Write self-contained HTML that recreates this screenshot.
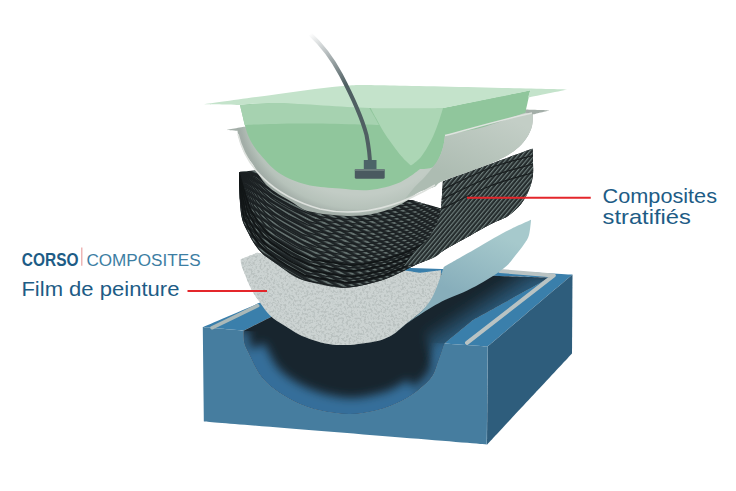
<!DOCTYPE html>
<html><head><meta charset="utf-8">
<style>
html,body{margin:0;padding:0;background:#fff;width:736px;height:491px;overflow:hidden}
svg{position:absolute;left:0;top:0}
.t{position:absolute;font-family:"Liberation Sans",sans-serif;color:#1f5b7c;white-space:nowrap}
</style></head><body>
<svg width="736" height="491" viewBox="0 0 736 491">
<defs>
  <linearGradient id="chan" x1="505" y1="312" x2="462" y2="245" gradientUnits="userSpaceOnUse">
    <stop offset="0" stop-color="#30698d"/>
    <stop offset="0.35" stop-color="#25506c"/>
    <stop offset="0.7" stop-color="#18293a"/>
    <stop offset="1" stop-color="#111a20"/>
  </linearGradient>
  <radialGradient id="band" cx="350" cy="330" r="90" gradientUnits="userSpaceOnUse">
    <stop offset="0.6" stop-color="#223a4c"/>
    <stop offset="0.85" stop-color="#2f6283"/>
    <stop offset="1" stop-color="#3a7398"/>
  </radialGradient>
  <radialGradient id="shellg" cx="360" cy="110" r="106" gradientUnits="userSpaceOnUse" gradientTransform="translate(360 110) scale(1.151 1) translate(-360 -110)">
    <stop offset="0.8" stop-color="#c2ccc5"/>
    <stop offset="0.93" stop-color="#b6c2ba"/>
    <stop offset="1" stop-color="#a3aea8"/>
  </radialGradient>
  <linearGradient id="wallg" x1="500" y1="115" x2="470" y2="185" gradientUnits="userSpaceOnUse">
    <stop offset="0" stop-color="#c3cec6"/>
    <stop offset="1" stop-color="#adbcb2"/>
  </linearGradient>
  <clipPath id="cclip"><path d="M239.0,172.0 C239.0,172.0 258.0,170.0 258.0,170.0 C258.0,170.0 300.0,190.0 300.0,190.0 C300.0,190.0 411.4,200.0 411.4,200.0 C411.4,200.0 441.3,208.5 441.3,208.5 C441.3,208.5 442.8,181.4 442.8,181.4 C442.8,181.4 532.5,148.6 532.5,148.6 C532.5,148.6 533.6,167.3 533.0,174.2 C532.4,181.1 531.0,185.0 529.0,190.0 C527.0,195.0 524.5,199.7 521.0,204.0 C517.5,208.3 513.0,212.7 508.0,216.0 C503.0,219.3 498.3,220.2 491.0,224.0 C483.7,227.8 471.8,234.7 464.0,239.0 C456.2,243.3 449.3,247.0 444.4,250.0 C439.5,253.0 438.9,254.8 434.8,257.0 C430.7,259.2 423.9,261.3 420.0,263.0 C416.1,264.7 414.7,265.4 411.3,267.0 C407.9,268.6 404.6,270.6 399.9,272.8 C395.1,275.0 389.2,277.9 382.8,280.0 C376.4,282.1 367.7,284.3 361.4,285.6 C355.1,286.9 350.7,287.8 345.0,287.8 C339.3,287.8 334.0,287.0 327.0,285.7 C320.0,284.4 308.6,281.8 302.8,280.0 C297.0,278.2 295.2,276.8 292.0,275.0 C288.8,273.2 287.1,271.3 283.8,269.0 C280.5,266.7 275.9,263.5 272.4,261.0 C268.9,258.5 265.6,256.6 262.6,253.8 C259.6,251.0 256.8,247.5 254.4,244.0 C252.0,240.5 250.0,236.7 248.0,232.6 C246.0,228.5 243.6,225.0 242.2,219.6 C240.8,214.2 240.3,207.9 239.8,200.0 C239.3,192.1 239.0,172.0 239.0,172.0Z"/></clipPath>
  <pattern id="patB" width="3.2" height="3.2" patternUnits="userSpaceOnUse" patternTransform="rotate(-50)">
    <rect width="3.2" height="3.2" fill="#252c2d"/>
    <rect width="3.2" height="1.1" fill="#6f7f7d"/>
  </pattern>
  <linearGradient id="tubeg" x1="310" y1="34" x2="345" y2="85" gradientUnits="userSpaceOnUse">
    <stop offset="0" stop-color="#4f5f62" stop-opacity="0"/>
    <stop offset="1" stop-color="#4f5f62"/>
  </linearGradient>
  <linearGradient id="rwall" x1="503" y1="310" x2="488" y2="287" gradientUnits="userSpaceOnUse">
    <stop offset="0" stop-color="#2c5f82"/>
    <stop offset="1" stop-color="#2f678b" stop-opacity="0"/>
  </linearGradient>
  <pattern id="patC" width="5" height="5" patternUnits="userSpaceOnUse" patternTransform="rotate(30)">
    <rect width="5" height="2.2" fill="#7a8a87" fill-opacity="0.75"/>
  </pattern>
  <clipPath id="nclip"><path d="M243.5,330.7 C243.5,330.7 243.2,338.9 244.2,342.8 C245.1,346.7 246.6,348.9 249.2,354.2 C251.8,359.5 255.6,368.6 259.8,374.4 C264.0,380.2 268.4,384.4 274.4,389.0 C280.4,393.6 288.0,398.4 295.6,402.0 C303.2,405.6 310.9,408.3 320.0,410.3 C329.1,412.3 340.4,414.1 350.0,414.0 C359.6,413.9 368.9,412.2 377.5,410.0 C386.1,407.8 394.3,404.5 401.3,401.0 C408.3,397.5 414.4,393.2 419.6,389.0 C424.8,384.8 429.2,380.8 432.4,376.0 C435.6,371.2 436.6,365.4 438.6,360.0 C440.6,354.6 444.3,343.5 444.3,343.5 C444.3,343.5 243.5,330.7 243.5,330.7Z"/></clipPath>
  <filter id="blur4" x="-20%" y="-20%" width="140%" height="140%"><feGaussianBlur stdDeviation="5"/></filter>
  <clipPath id="chclip"><path d="M243.5,330.7 C243.5,330.7 243.2,338.9 244.2,342.8 C245.1,346.7 246.6,348.9 249.2,354.2 C251.8,359.5 255.6,368.6 259.8,374.4 C264.0,380.2 268.4,384.4 274.4,389.0 C280.4,393.6 288.0,398.4 295.6,402.0 C303.2,405.6 310.9,408.3 320.0,410.3 C329.1,412.3 340.4,414.1 350.0,414.0 C359.6,413.9 368.9,412.2 377.5,410.0 C386.1,407.8 394.3,404.5 401.3,401.0 C408.3,397.5 414.4,393.2 419.6,389.0 C424.8,384.8 429.2,380.8 432.4,376.0 C435.6,371.2 436.6,365.4 438.6,360.0 C440.6,354.6 444.3,343.5 444.3,343.5 C444.3,343.5 472.8,320.0 472.8,320.0 C472.8,320.0 549.0,277.8 549.0,277.8 C549.0,277.8 365.0,271.0 365.0,271.0 C365.0,271.0 265.0,320.0 265.0,320.0 C265.0,320.0 243.5,330.7 243.5,330.7Z"/></clipPath>
  <clipPath id="fclip"><path d="M240.7,259.3 C240.7,259.3 240.6,262.1 241.4,265.0 C242.2,267.9 244.0,272.4 245.7,276.4 C247.4,280.4 249.3,285.2 251.4,289.2 C253.5,293.2 255.4,296.2 258.5,300.6 C261.6,305.0 265.7,311.4 270.0,315.6 C274.3,319.8 279.6,322.5 284.3,325.6 C289.1,328.7 293.8,331.8 298.5,334.2 C303.2,336.6 307.6,338.2 312.8,339.9 C318.0,341.6 323.7,343.4 329.9,344.2 C336.1,345.0 342.1,345.4 350.0,344.9 C357.9,344.4 370.5,342.6 377.5,341.0 C384.5,339.4 387.7,337.6 392.2,335.0 C396.7,332.4 399.8,328.9 404.4,325.2 C409.0,321.5 415.1,317.1 419.7,313.0 C424.3,308.9 428.7,305.4 432.0,300.8 C435.3,296.2 438.0,290.6 439.5,285.5 C441.0,280.4 441.0,270.2 441.0,270.2 C441.0,270.2 420.0,272.8 420.0,272.8 C420.0,272.8 411.3,271.4 411.3,271.4 C411.3,271.4 257.0,252.8 257.0,252.8 C257.0,252.8 240.7,259.3 240.7,259.3Z"/></clipPath>
  <filter id="noise" x="0" y="0" width="100%" height="100%">
    <feTurbulence type="fractalNoise" baseFrequency="0.45" numOctaves="3" seed="3" result="n"/>
    <feColorMatrix in="n" type="matrix" values="0 0 0 0 0.42  0 0 0 0 0.47  0 0 0 0 0.46  0 0 0 -4.5 2.45"/>
  </filter>
  <linearGradient id="lbg" x1="500" y1="235" x2="470" y2="300" gradientUnits="userSpaceOnUse">
    <stop offset="0" stop-color="#a6c9cc"/>
    <stop offset="1" stop-color="#87aebb"/>
  </linearGradient>
</defs>
<path d="M202.8,327.1 C202.8,327.1 256.3,304.3 256.3,304.3 C256.3,304.3 338.0,266.0 338.0,266.0 C338.0,266.0 500.0,270.5 500.0,270.5 C500.0,270.5 572.5,274.6 572.5,274.6 C572.5,274.6 487.7,346.4 487.7,346.4 C487.7,346.4 444.3,343.5 444.3,343.5 C444.3,343.5 472.8,320.0 472.8,320.0 C472.8,320.0 549.0,277.8 549.0,277.8 C549.0,277.8 365.0,271.0 365.0,271.0 C365.0,271.0 265.0,320.0 265.0,320.0 C265.0,320.0 243.5,330.7 243.5,330.7 C243.5,330.7 202.8,327.1 202.8,327.1Z" fill="#3a7fab"/>
<path d="M487.7,346.4 C487.7,346.4 572.5,274.6 572.5,274.6 C572.5,274.6 572.0,353.5 572.0,353.5 C572.0,353.5 487.0,444.5 487.0,444.5 C487.0,444.5 487.7,346.4 487.7,346.4Z" fill="#2e5d7c"/>
<path d="M202.8,327.1 C202.8,327.1 243.5,330.7 243.5,330.7 C243.5,330.7 243.2,338.9 244.2,342.8 C245.1,346.7 246.6,348.9 249.2,354.2 C251.8,359.5 255.6,368.6 259.8,374.4 C264.0,380.2 268.4,384.4 274.4,389.0 C280.4,393.6 288.0,398.4 295.6,402.0 C303.2,405.6 310.9,408.3 320.0,410.3 C329.1,412.3 340.4,414.1 350.0,414.0 C359.6,413.9 368.9,412.2 377.5,410.0 C386.1,407.8 394.3,404.5 401.3,401.0 C408.3,397.5 414.4,393.2 419.6,389.0 C424.8,384.8 429.2,380.8 432.4,376.0 C435.6,371.2 436.6,365.4 438.6,360.0 C440.6,354.6 444.3,343.5 444.3,343.5 C444.3,343.5 487.7,346.4 487.7,346.4 C487.7,346.4 487.0,444.5 487.0,444.5 C487.0,444.5 204.0,421.5 204.0,421.5 C204.0,421.5 202.8,327.1 202.8,327.1Z" fill="#467d9f"/>
<path d="M243.5,330.7 C243.5,330.7 243.2,338.9 244.2,342.8 C245.1,346.7 246.6,348.9 249.2,354.2 C251.8,359.5 255.6,368.6 259.8,374.4 C264.0,380.2 268.4,384.4 274.4,389.0 C280.4,393.6 288.0,398.4 295.6,402.0 C303.2,405.6 310.9,408.3 320.0,410.3 C329.1,412.3 340.4,414.1 350.0,414.0 C359.6,413.9 368.9,412.2 377.5,410.0 C386.1,407.8 394.3,404.5 401.3,401.0 C408.3,397.5 414.4,393.2 419.6,389.0 C424.8,384.8 429.2,380.8 432.4,376.0 C435.6,371.2 436.6,365.4 438.6,360.0 C440.6,354.6 444.3,343.5 444.3,343.5 C444.3,343.5 472.8,320.0 472.8,320.0 C472.8,320.0 549.0,277.8 549.0,277.8 C549.0,277.8 365.0,271.0 365.0,271.0 C365.0,271.0 265.0,320.0 265.0,320.0 C265.0,320.0 243.5,330.7 243.5,330.7Z" fill="#18252e"/>
<g clip-path="url(#chclip)"><path d="M450,350 L560,280 L500,266 L420,318 L436,370 Z" fill="url(#rwall)" filter="url(#blur4)"/></g>
<g clip-path="url(#nclip)"><g filter="url(#blur4)">
<path d="M243.5,330.7 C243.5,330.7 243.2,338.9 244.2,342.8 C245.1,346.7 246.6,348.9 249.2,354.2 C251.8,359.5 255.6,368.6 259.8,374.4 C264.0,380.2 268.4,384.4 274.4,389.0 C280.4,393.6 288.0,398.4 295.6,402.0 C303.2,405.6 310.9,408.3 320.0,410.3 C329.1,412.3 340.4,414.1 350.0,414.0 C359.6,413.9 368.9,412.2 377.5,410.0 C386.1,407.8 394.3,404.5 401.3,401.0 C408.3,397.5 414.4,393.2 419.6,389.0 C424.8,384.8 429.2,380.8 432.4,376.0 C435.6,371.2 436.6,365.4 438.6,360.0 C440.6,354.6 444.3,343.5 444.3,343.5" fill="none" stroke="#366c94" stroke-width="11"/>
<path d="M252.0,350.0 C255.0,355.0 261.2,371.3 270.0,380.0 C278.8,388.7 291.7,396.7 305.0,402.0 C318.3,407.3 335.8,411.5 350.0,412.0 C364.2,412.5 379.2,408.3 390.0,405.0 C400.8,401.7 410.8,394.2 415.0,392.0" fill="none" stroke="#356e9a" stroke-width="28"/>
</g></g>
<path d="M212,327.8 L257.7,305.7" stroke="#aab8b8" stroke-width="3.5" stroke-linecap="round"/>
<path d="M467,342.8 L553.8,275.4 L500,271" stroke="#b9c3c3" stroke-width="4" stroke-linecap="round" stroke-linejoin="round" fill="none"/>
<path d="M240.7,259.3 C240.7,259.3 240.6,262.1 241.4,265.0 C242.2,267.9 244.0,272.4 245.7,276.4 C247.4,280.4 249.3,285.2 251.4,289.2 C253.5,293.2 255.4,296.2 258.5,300.6 C261.6,305.0 265.7,311.4 270.0,315.6 C274.3,319.8 279.6,322.5 284.3,325.6 C289.1,328.7 293.8,331.8 298.5,334.2 C303.2,336.6 307.6,338.2 312.8,339.9 C318.0,341.6 323.7,343.4 329.9,344.2 C336.1,345.0 342.1,345.4 350.0,344.9 C357.9,344.4 370.5,342.6 377.5,341.0 C384.5,339.4 387.7,337.6 392.2,335.0 C396.7,332.4 399.8,328.9 404.4,325.2 C409.0,321.5 415.1,317.1 419.7,313.0 C424.3,308.9 428.7,305.4 432.0,300.8 C435.3,296.2 438.0,290.6 439.5,285.5 C441.0,280.4 441.0,270.2 441.0,270.2 C441.0,270.2 420.0,272.8 420.0,272.8 C420.0,272.8 411.3,271.4 411.3,271.4 C411.3,271.4 257.0,252.8 257.0,252.8 C257.0,252.8 240.7,259.3 240.7,259.3Z" fill="#ccd3d2"/>
<g clip-path="url(#fclip)"><rect x="235" y="245" width="215" height="105" filter="url(#noise)" opacity="0.6"/></g>
<path d="M531.1,219.8 C531.1,219.8 530.1,231.0 529.0,235.0 C527.9,239.0 526.8,240.1 524.5,243.6 C522.2,247.1 518.0,252.3 515.0,256.0 C512.0,259.7 510.2,262.7 506.5,266.0 C502.8,269.3 497.5,273.0 493.0,276.0 C488.5,279.0 484.6,281.2 479.6,284.0 C474.6,286.8 468.6,289.9 463.0,292.5 C457.4,295.1 451.2,297.2 446.0,299.6 C440.8,302.0 436.5,304.4 432.0,307.0 C427.5,309.6 423.3,312.5 419.0,315.3 C414.7,318.1 410.5,320.8 406.0,324.0 C401.5,327.2 392.2,334.4 392.2,334.4 C392.2,334.4 399.8,328.8 404.4,325.2 C409.0,321.6 415.4,317.0 419.7,313.0 C424.0,309.0 427.3,305.0 430.0,301.0 C432.7,297.0 434.3,293.0 436.0,289.0 C437.7,285.0 439.1,280.7 440.4,277.0 C441.7,273.3 443.8,267.0 443.8,267.0 C443.8,267.0 456.0,259.9 462.0,256.5 C468.0,253.1 474.3,249.6 479.6,246.5 C484.9,243.4 488.6,241.0 494.0,238.0 C499.4,235.0 505.8,231.5 512.0,228.5 C518.2,225.5 531.1,219.8 531.1,219.8Z" fill="url(#lbg)"/>
<path d="M239.0,172.0 C239.0,172.0 258.0,170.0 258.0,170.0 C258.0,170.0 300.0,190.0 300.0,190.0 C300.0,190.0 411.4,200.0 411.4,200.0 C411.4,200.0 441.3,208.5 441.3,208.5 C441.3,208.5 442.8,181.4 442.8,181.4 C442.8,181.4 532.5,148.6 532.5,148.6 C532.5,148.6 533.6,167.3 533.0,174.2 C532.4,181.1 531.0,185.0 529.0,190.0 C527.0,195.0 524.5,199.7 521.0,204.0 C517.5,208.3 513.0,212.7 508.0,216.0 C503.0,219.3 498.3,220.2 491.0,224.0 C483.7,227.8 471.8,234.7 464.0,239.0 C456.2,243.3 449.3,247.0 444.4,250.0 C439.5,253.0 438.9,254.8 434.8,257.0 C430.7,259.2 423.9,261.3 420.0,263.0 C416.1,264.7 414.7,265.4 411.3,267.0 C407.9,268.6 404.6,270.6 399.9,272.8 C395.1,275.0 389.2,277.9 382.8,280.0 C376.4,282.1 367.7,284.3 361.4,285.6 C355.1,286.9 350.7,287.8 345.0,287.8 C339.3,287.8 334.0,287.0 327.0,285.7 C320.0,284.4 308.6,281.8 302.8,280.0 C297.0,278.2 295.2,276.8 292.0,275.0 C288.8,273.2 287.1,271.3 283.8,269.0 C280.5,266.7 275.9,263.5 272.4,261.0 C268.9,258.5 265.6,256.6 262.6,253.8 C259.6,251.0 256.8,247.5 254.4,244.0 C252.0,240.5 250.0,236.7 248.0,232.6 C246.0,228.5 243.6,225.0 242.2,219.6 C240.8,214.2 240.3,207.9 239.8,200.0 C239.3,192.1 239.0,172.0 239.0,172.0Z" fill="#1e2426"/>
<g clip-path="url(#cclip)">
<rect x="230" y="140" width="310" height="160" fill="url(#patC)"/>
<g stroke="#1c2123" stroke-width="1.4" fill="none">
<path d="M239.0,174.0 L239.2,179.1 L239.3,184.3 L239.5,189.4 L239.6,194.5 L239.8,199.6 L240.4,204.7 L241.0,209.8 L241.6,214.9 L242.4,220.0 L244.5,224.7 L246.5,229.3 L248.8,234.0 L251.3,238.4 L253.8,242.9 L256.9,247.0 L260.2,250.9 L263.7,254.6 L267.8,257.6 L272.0,260.7 L276.2,263.6 L280.4,266.6 L284.6,269.5 L289.0,272.0 L293.5,274.6 L297.9,277.2 L302.4,279.7 L307.3,280.8 L312.4,281.8 L317.4,282.7 L322.5,283.6 L327.5,284.6 L332.6,285.5 L337.6,286.4 L342.7,287.4 L347.7,287.4 L352.8,286.7 L357.9,286.0 L362.9,285.1 L367.9,283.8 L372.9,282.6 L377.8,281.3 L382.8,280.0 L387.5,278.1 L392.3,276.1 L397.0,274.1 L401.7,272.0 L406.3,269.7 L410.9,267.5 L415.5,265.2 L420.1,262.9 L424.6,260.5 L429.1,258.1 L433.7,255.7 L438.2,253.3 L442.7,250.9 L447.2,248.4 L451.7,245.9 L456.2,243.4 L460.6,240.9 L465.1,238.4 L469.6,235.9 L474.1,233.4 L478.6,230.9 L483.1,228.4 L487.5,225.9 L492.1,223.5 L496.7,221.3 L501.3,219.1 L506.0,216.9 L510.1,214.0 L513.9,210.5 L517.7,207.1 L521.2,203.4 L523.2,198.7 L525.2,194.0 L527.1,189.2 L529.1,184.5 L531.0,179.7 L533.0,175.0" stroke-dashoffset="0.0"/>
<path d="M239.0,173.9 L239.3,178.8 L239.7,183.7 L240.0,188.6 L240.3,193.5 L240.7,198.4 L241.4,203.4 L242.2,208.3 L242.9,213.3 L243.8,218.2 L245.9,222.8 L248.1,227.3 L250.4,231.8 L252.9,236.1 L255.5,240.5 L258.6,244.4 L261.9,248.2 L265.5,251.8 L269.6,254.8 L273.7,257.7 L277.8,260.6 L282.0,263.5 L286.2,266.3 L290.7,268.8 L295.1,271.2 L299.5,273.7 L303.9,276.1 L308.8,277.2 L313.8,278.1 L318.8,279.0 L323.8,279.8 L328.8,280.7 L333.8,281.6 L338.8,282.5 L343.8,283.4 L348.8,283.5 L353.8,282.8 L358.8,282.2 L363.8,281.3 L368.8,280.1 L373.7,278.8 L378.6,277.6 L383.5,276.4 L388.2,274.5 L392.9,272.5 L397.6,270.6 L402.2,268.6 L406.8,266.4 L411.4,264.2 L415.9,262.0 L420.5,259.8 L425.0,257.4 L429.5,255.0 L433.9,252.6 L438.4,250.3 L442.9,247.9 L447.3,245.5 L451.8,243.0 L456.2,240.5 L460.6,238.1 L465.1,235.6 L469.5,233.1 L474.0,230.7 L478.4,228.2 L482.8,225.8 L487.3,223.3 L491.8,220.9 L496.4,218.8 L500.9,216.6 L505.5,214.5 L509.7,211.6 L513.4,208.2 L517.2,204.9 L520.8,201.3 L522.8,196.7 L524.8,192.2 L526.9,187.6 L528.9,183.0 L531.0,178.4 L533.0,173.8" stroke-dashoffset="2.0"/>
<path d="M239.0,173.8 L239.5,178.5 L240.0,183.2 L240.5,187.8 L241.1,192.5 L241.6,197.2 L242.4,202.0 L243.3,206.8 L244.2,211.7 L245.2,216.4 L247.4,220.9 L249.6,225.3 L251.9,229.7 L254.6,233.8 L257.2,238.0 L260.3,241.8 L263.7,245.5 L267.2,249.0 L271.3,251.9 L275.4,254.8 L279.5,257.6 L283.7,260.4 L287.9,263.1 L292.3,265.5 L296.7,267.8 L301.0,270.1 L305.4,272.5 L310.3,273.5 L315.3,274.3 L320.2,275.2 L325.1,276.1 L330.1,276.9 L335.0,277.8 L340.0,278.6 L344.9,279.5 L349.9,279.5 L354.8,278.9 L359.8,278.3 L364.7,277.5 L369.6,276.3 L374.5,275.1 L379.4,273.9 L384.2,272.7 L388.9,270.9 L393.5,269.0 L398.2,267.1 L402.8,265.2 L407.3,263.1 L411.9,261.0 L416.4,258.8 L420.9,256.6 L425.3,254.3 L429.8,251.9 L434.2,249.6 L438.6,247.2 L443.1,244.9 L447.5,242.5 L451.9,240.1 L456.3,237.7 L460.6,235.2 L465.0,232.8 L469.4,230.4 L473.8,228.0 L478.2,225.6 L482.6,223.2 L487.0,220.7 L491.5,218.4 L496.0,216.3 L500.5,214.1 L505.1,212.0 L509.2,209.2 L513.0,205.9 L516.7,202.6 L520.3,199.2 L522.4,194.8 L524.5,190.4 L526.6,185.9 L528.8,181.5 L530.9,177.1 L533.0,172.6" stroke-dashoffset="4.0"/>
<path d="M239.0,173.7 L239.7,178.2 L240.4,182.6 L241.1,187.1 L241.8,191.5 L242.5,196.0 L243.4,200.7 L244.5,205.4 L245.5,210.0 L246.6,214.7 L248.8,219.0 L251.1,223.3 L253.5,227.5 L256.2,231.5 L258.9,235.6 L262.1,239.3 L265.4,242.8 L269.0,246.2 L273.0,249.0 L277.1,251.8 L281.2,254.5 L285.4,257.2 L289.5,259.9 L293.9,262.2 L298.2,264.4 L302.6,266.6 L307.0,268.9 L311.8,269.8 L316.7,270.6 L321.6,271.4 L326.5,272.3 L331.4,273.1 L336.3,273.9 L341.1,274.7 L346.0,275.5 L350.9,275.6 L355.9,275.0 L360.8,274.4 L365.7,273.6 L370.5,272.5 L375.3,271.3 L380.1,270.2 L384.9,269.0 L389.6,267.3 L394.2,265.5 L398.8,263.7 L403.3,261.8 L407.9,259.8 L412.3,257.8 L416.8,255.6 L421.3,253.4 L425.7,251.1 L430.1,248.8 L434.4,246.5 L438.8,244.2 L443.2,241.9 L447.6,239.6 L451.9,237.2 L456.3,234.8 L460.6,232.4 L465.0,230.0 L469.3,227.6 L473.7,225.3 L478.1,222.9 L482.4,220.5 L486.8,218.2 L491.2,215.9 L495.7,213.7 L500.1,211.6 L504.6,209.6 L508.7,206.8 L512.5,203.6 L516.2,200.4 L519.8,197.1 L522.0,192.8 L524.2,188.6 L526.4,184.3 L528.6,180.0 L530.8,175.7 L533.0,171.4" stroke-dashoffset="6.0"/>
<path d="M239.0,173.6 L239.9,177.8 L240.8,182.1 L241.6,186.3 L242.5,190.5 L243.4,194.8 L244.5,199.3 L245.6,203.9 L246.7,208.4 L248.0,212.9 L250.3,217.1 L252.6,221.3 L255.1,225.4 L257.8,229.2 L260.6,233.1 L263.8,236.7 L267.2,240.1 L270.7,243.4 L274.8,246.1 L278.8,248.8 L282.9,251.5 L287.0,254.1 L291.2,256.7 L295.5,258.9 L299.8,261.0 L304.2,263.1 L308.5,265.2 L313.3,266.1 L318.1,266.9 L323.0,267.7 L327.8,268.5 L332.6,269.3 L337.5,270.0 L342.3,270.8 L347.2,271.6 L352.0,271.7 L356.9,271.1 L361.7,270.6 L366.6,269.8 L371.3,268.7 L376.1,267.6 L380.9,266.4 L385.6,265.3 L390.2,263.6 L394.8,261.9 L399.4,260.2 L403.9,258.4 L408.4,256.5 L412.8,254.5 L417.2,252.4 L421.7,250.2 L426.0,248.0 L430.4,245.7 L434.7,243.4 L439.1,241.2 L443.4,238.9 L447.7,236.6 L452.0,234.3 L456.3,231.9 L460.6,229.6 L464.9,227.2 L469.3,224.9 L473.6,222.6 L477.9,220.2 L482.2,217.9 L486.5,215.6 L490.9,213.3 L495.3,211.2 L499.7,209.2 L504.2,207.1 L508.2,204.4 L512.0,201.3 L515.7,198.2 L519.3,195.0 L521.6,190.9 L523.9,186.7 L526.2,182.6 L528.4,178.5 L530.7,174.4 L533.0,170.2" stroke-dashoffset="8.0"/>
<path d="M239.0,173.5 L240.1,177.5 L241.1,181.5 L242.2,185.5 L243.2,189.5 L244.3,193.6 L245.5,198.0 L246.8,202.4 L248.0,206.8 L249.4,211.1 L251.8,215.2 L254.2,219.3 L256.7,223.2 L259.5,226.9 L262.3,230.7 L265.5,234.1 L268.9,237.4 L272.5,240.6 L276.5,243.2 L280.5,245.9 L284.6,248.5 L288.7,251.0 L292.8,253.5 L297.1,255.6 L301.4,257.6 L305.7,259.6 L310.1,261.6 L314.8,262.5 L319.6,263.2 L324.4,263.9 L329.1,264.7 L333.9,265.4 L338.7,266.2 L343.5,266.9 L348.3,267.6 L353.1,267.7 L357.9,267.2 L362.7,266.7 L367.5,266.0 L372.2,264.9 L376.9,263.8 L381.6,262.7 L386.4,261.7 L390.9,260.0 L395.4,258.4 L400.0,256.8 L404.5,255.0 L408.9,253.2 L413.3,251.3 L417.7,249.2 L422.0,247.1 L426.4,244.8 L430.7,242.6 L435.0,240.4 L439.3,238.2 L443.6,235.9 L447.8,233.7 L452.1,231.3 L456.4,229.0 L460.6,226.7 L464.9,224.4 L469.2,222.1 L473.4,219.9 L477.7,217.6 L482.0,215.3 L486.3,213.0 L490.6,210.8 L494.9,208.7 L499.3,206.7 L503.8,204.6 L507.8,202.0 L511.5,199.0 L515.3,196.0 L518.8,192.9 L521.2,188.9 L523.6,184.9 L525.9,181.0 L528.3,177.0 L530.6,173.0 L533.0,169.0" stroke-dashoffset="10.0"/>
<path d="M239.0,173.4 L240.2,177.2 L241.5,181.0 L242.7,184.8 L243.9,188.6 L245.1,192.4 L246.5,196.7 L247.9,200.9 L249.3,205.1 L250.8,209.4 L253.2,213.3 L255.7,217.3 L258.3,221.1 L261.1,224.6 L264.0,228.2 L267.2,231.5 L270.7,234.7 L274.2,237.8 L278.2,240.3 L282.2,242.9 L286.3,245.4 L290.3,247.9 L294.4,250.4 L298.7,252.3 L303.0,254.2 L307.3,256.1 L311.6,258.0 L316.3,258.8 L321.0,259.5 L325.8,260.2 L330.5,260.9 L335.2,261.6 L339.9,262.3 L344.7,263.0 L349.4,263.7 L354.1,263.8 L358.9,263.3 L363.7,262.9 L368.4,262.1 L373.1,261.1 L377.7,260.1 L382.4,259.0 L387.1,258.0 L391.6,256.4 L396.1,254.9 L400.6,253.3 L405.0,251.7 L409.4,249.9 L413.8,248.0 L418.1,246.0 L422.4,243.9 L426.7,241.7 L431.0,239.5 L435.2,237.3 L439.5,235.1 L443.7,232.9 L448.0,230.7 L452.2,228.4 L456.4,226.2 L460.6,223.9 L464.9,221.6 L469.1,219.4 L473.3,217.1 L477.5,214.9 L481.8,212.7 L486.0,210.4 L490.3,208.2 L494.6,206.2 L498.9,204.2 L503.3,202.2 L507.3,199.7 L511.0,196.7 L514.8,193.8 L518.4,190.8 L520.8,187.0 L523.2,183.1 L525.7,179.3 L528.1,175.5 L530.6,171.7 L533.0,167.9" stroke-dashoffset="12.0"/>
<path d="M239.0,173.3 L240.4,176.9 L241.8,180.4 L243.2,184.0 L244.7,187.6 L246.0,191.2 L247.5,195.3 L249.1,199.4 L250.6,203.5 L252.2,207.6 L254.7,211.4 L257.2,215.2 L259.9,218.9 L262.8,222.3 L265.7,225.8 L269.0,229.0 L272.4,232.0 L276.0,235.0 L280.0,237.5 L283.9,239.9 L288.0,242.4 L292.0,244.8 L296.1,247.2 L300.3,249.1 L304.6,250.8 L308.9,252.6 L313.1,254.3 L317.8,255.1 L322.5,255.8 L327.1,256.4 L331.8,257.1 L336.5,257.8 L341.2,258.4 L345.9,259.1 L350.5,259.8 L355.2,259.8 L359.9,259.4 L364.6,259.0 L369.3,258.3 L373.9,257.3 L378.5,256.3 L383.2,255.3 L387.8,254.3 L392.2,252.8 L396.7,251.3 L401.1,249.8 L405.6,248.3 L409.9,246.6 L414.3,244.8 L418.6,242.8 L422.8,240.7 L427.0,238.6 L431.3,236.4 L435.5,234.3 L439.7,232.1 L443.9,229.9 L448.1,227.7 L452.3,225.5 L456.5,223.3 L460.6,221.1 L464.8,218.9 L469.0,216.7 L473.2,214.4 L477.4,212.2 L481.6,210.0 L485.7,207.8 L490.0,205.7 L494.2,203.6 L498.5,201.7 L502.9,199.7 L506.8,197.3 L510.6,194.4 L514.3,191.6 L517.9,188.7 L520.4,185.0 L522.9,181.3 L525.4,177.7 L528.0,174.0 L530.5,170.3 L533.0,166.7" stroke-dashoffset="14.0"/>
<path d="M239.0,173.2 L240.6,176.6 L242.2,179.9 L243.8,183.2 L245.4,186.6 L246.9,190.0 L248.6,194.0 L250.2,197.9 L251.9,201.9 L253.6,205.8 L256.2,209.5 L258.7,213.2 L261.4,216.7 L264.4,220.0 L267.4,223.3 L270.7,226.4 L274.1,229.3 L277.7,232.2 L281.7,234.6 L285.7,237.0 L289.7,239.3 L293.7,241.7 L297.7,244.0 L301.9,245.8 L306.2,247.4 L310.4,249.1 L314.7,250.7 L319.3,251.4 L323.9,252.1 L328.5,252.7 L333.2,253.3 L337.8,253.9 L342.4,254.6 L347.0,255.2 L351.7,255.8 L356.3,255.9 L360.9,255.5 L365.6,255.1 L370.2,254.5 L374.8,253.5 L379.3,252.6 L383.9,251.6 L388.5,250.6 L392.9,249.2 L397.3,247.8 L401.7,246.4 L406.1,244.9 L410.5,243.3 L414.8,241.6 L419.0,239.6 L423.2,237.5 L427.4,235.4 L431.6,233.3 L435.7,231.2 L439.9,229.1 L444.1,226.9 L448.2,224.8 L452.4,222.6 L456.5,220.4 L460.6,218.2 L464.8,216.1 L468.9,213.9 L473.1,211.7 L477.2,209.6 L481.3,207.4 L485.5,205.2 L489.7,203.1 L493.9,201.1 L498.1,199.2 L502.4,197.2 L506.4,194.9 L510.1,192.1 L513.8,189.4 L517.4,186.6 L520.0,183.1 L522.6,179.5 L525.2,176.0 L527.8,172.5 L530.4,169.0 L533.0,165.5" stroke-dashoffset="16.0"/>
<path d="M239.0,173.1 L240.8,176.2 L242.5,179.4 L244.3,182.5 L246.1,185.6 L247.8,188.8 L249.6,192.6 L251.4,196.4 L253.2,200.3 L255.0,204.0 L257.6,207.6 L260.2,211.2 L263.0,214.6 L266.0,217.7 L269.1,220.9 L272.4,223.8 L275.9,226.7 L279.5,229.4 L283.4,231.7 L287.4,234.0 L291.4,236.3 L295.3,238.6 L299.3,240.8 L303.5,242.5 L307.8,244.0 L312.0,245.5 L316.2,247.1 L320.8,247.7 L325.3,248.3 L329.9,248.9 L334.5,249.5 L339.1,250.1 L343.6,250.7 L348.2,251.3 L352.8,251.9 L357.4,252.0 L362.0,251.6 L366.6,251.3 L371.1,250.7 L375.6,249.7 L380.2,248.8 L384.7,247.9 L389.2,246.9 L393.6,245.6 L398.0,244.2 L402.3,242.9 L406.7,241.5 L411.0,240.0 L415.3,238.3 L419.4,236.3 L423.6,234.4 L427.7,232.3 L431.9,230.2 L436.0,228.1 L440.1,226.0 L444.2,224.0 L448.3,221.8 L452.4,219.7 L456.5,217.6 L460.6,215.4 L464.7,213.3 L468.8,211.2 L472.9,209.0 L477.0,206.9 L481.1,204.8 L485.2,202.6 L489.3,200.6 L493.5,198.6 L497.7,196.7 L502.0,194.8 L505.9,192.5 L509.6,189.8 L513.3,187.2 L516.9,184.5 L519.6,181.1 L522.3,177.7 L525.0,174.4 L527.6,171.0 L530.3,167.6 L533.0,164.3" stroke-dashoffset="18.0"/>
<path d="M239.0,173.0 L241.0,175.9 L242.9,178.8 L244.9,181.7 L246.8,184.6 L248.7,187.6 L250.6,191.3 L252.5,194.9 L254.4,198.6 L256.4,202.3 L259.1,205.7 L261.8,209.2 L264.6,212.4 L267.7,215.4 L270.8,218.4 L274.1,221.2 L277.6,224.0 L281.2,226.6 L285.2,228.8 L289.1,231.1 L293.0,233.3 L297.0,235.5 L301.0,237.6 L305.2,239.2 L309.4,240.6 L313.6,242.0 L317.8,243.4 L322.3,244.1 L326.8,244.6 L331.3,245.2 L335.8,245.7 L340.3,246.3 L344.9,246.8 L349.4,247.4 L353.9,247.9 L358.4,248.0 L363.0,247.7 L367.5,247.4 L372.0,246.8 L376.5,245.9 L381.0,245.0 L385.4,244.2 L389.9,243.3 L394.2,242.0 L398.6,240.7 L402.9,239.4 L407.2,238.1 L411.5,236.7 L415.8,235.1 L419.9,233.1 L424.0,231.2 L428.1,229.1 L432.2,227.1 L436.2,225.1 L440.3,223.0 L444.4,221.0 L448.5,218.9 L452.5,216.8 L456.6,214.7 L460.6,212.6 L464.7,210.5 L468.7,208.4 L472.8,206.3 L476.9,204.2 L480.9,202.1 L485.0,200.1 L489.0,198.0 L493.2,196.1 L497.3,194.2 L501.5,192.3 L505.4,190.1 L509.1,187.5 L512.8,185.0 L516.4,182.3 L519.2,179.1 L522.0,175.9 L524.7,172.7 L527.5,169.5 L530.2,166.3 L533.0,163.1" stroke-dashoffset="20.0"/>
<path d="M239.0,173.0 L241.1,175.6 L243.3,178.3 L245.4,180.9 L247.5,183.6 L249.6,186.4 L251.6,189.9 L253.7,193.5 L255.7,197.0 L257.8,200.5 L260.6,203.9 L263.3,207.2 L266.2,210.3 L269.3,213.1 L272.5,216.0 L275.9,218.7 L279.4,221.3 L283.0,223.7 L286.9,225.9 L290.8,228.1 L294.7,230.2 L298.7,232.4 L302.6,234.5 L306.8,235.9 L310.9,237.2 L315.1,238.5 L319.3,239.8 L323.7,240.4 L328.2,240.9 L332.7,241.4 L337.2,241.9 L341.6,242.4 L346.1,243.0 L350.6,243.5 L355.0,244.0 L359.5,244.1 L364.0,243.8 L368.5,243.6 L372.9,243.0 L377.4,242.2 L381.8,241.3 L386.2,240.4 L390.6,239.6 L394.9,238.4 L399.2,237.2 L403.5,236.0 L407.8,234.7 L412.0,233.4 L416.2,231.9 L420.3,229.9 L424.4,228.0 L428.4,226.0 L432.5,224.0 L436.5,222.0 L440.5,220.0 L444.6,218.0 L448.6,215.9 L452.6,213.9 L456.6,211.8 L460.6,209.8 L464.6,207.7 L468.7,205.7 L472.7,203.6 L476.7,201.6 L480.7,199.5 L484.7,197.5 L488.7,195.5 L492.8,193.6 L496.9,191.7 L501.1,189.9 L504.9,187.7 L508.6,185.2 L512.4,182.8 L516.0,180.2 L518.8,177.2 L521.6,174.1 L524.5,171.1 L527.3,168.0 L530.2,165.0 L533.0,161.9" stroke-dashoffset="22.0"/>
<path d="M239.0,172.9 L241.3,175.3 L243.6,177.7 L245.9,180.2 L248.2,182.6 L250.5,185.2 L252.7,188.6 L254.8,192.0 L257.0,195.4 L259.2,198.7 L262.0,202.0 L264.8,205.2 L267.8,208.1 L271.0,210.8 L274.2,213.6 L277.6,216.1 L281.1,218.6 L284.7,220.9 L288.6,223.0 L292.5,225.1 L296.4,227.2 L300.3,229.2 L304.3,231.3 L308.4,232.6 L312.5,233.8 L316.7,235.0 L320.8,236.2 L325.2,236.7 L329.7,237.2 L334.1,237.7 L338.5,238.1 L342.9,238.6 L347.3,239.1 L351.7,239.6 L356.2,240.0 L360.6,240.1 L365.0,239.9 L369.4,239.7 L373.8,239.2 L378.2,238.4 L382.6,237.5 L387.0,236.7 L391.3,235.9 L395.6,234.8 L399.9,233.6 L404.1,232.5 L408.4,231.3 L412.6,230.1 L416.7,228.6 L420.8,226.7 L424.8,224.8 L428.8,222.9 L432.8,220.9 L436.8,218.9 L440.8,217.0 L444.7,215.0 L448.7,213.0 L452.7,211.0 L456.7,208.9 L460.6,206.9 L464.6,204.9 L468.6,202.9 L472.5,200.9 L476.5,198.9 L480.5,196.9 L484.5,194.9 L488.4,192.9 L492.5,191.0 L496.5,189.2 L500.6,187.4 L504.5,185.3 L508.2,182.9 L511.9,180.6 L515.5,178.1 L518.4,175.2 L521.3,172.3 L524.2,169.4 L527.2,166.5 L530.1,163.6 L533.0,160.7" stroke-dashoffset="24.0"/>
<path d="M239.0,172.8 L241.5,175.0 L244.0,177.2 L246.5,179.4 L249.0,181.6 L251.4,184.0 L253.7,187.2 L256.0,190.5 L258.3,193.7 L260.6,197.0 L263.5,200.1 L266.3,203.2 L269.4,206.0 L272.6,208.5 L275.9,211.1 L279.3,213.5 L282.9,215.9 L286.5,218.1 L290.4,220.2 L294.2,222.2 L298.1,224.2 L302.0,226.1 L305.9,228.1 L310.0,229.4 L314.1,230.4 L318.3,231.5 L322.4,232.5 L326.7,233.0 L331.1,233.5 L335.5,233.9 L339.8,234.3 L344.2,234.8 L348.6,235.2 L352.9,235.7 L357.3,236.1 L361.6,236.2 L366.0,236.0 L370.4,235.8 L374.8,235.4 L379.1,234.6 L383.4,233.8 L387.7,233.0 L392.0,232.2 L396.3,231.2 L400.5,230.1 L404.7,229.0 L408.9,227.9 L413.1,226.8 L417.2,225.4 L421.2,223.5 L425.2,221.6 L429.1,219.7 L433.1,217.8 L437.0,215.9 L441.0,213.9 L444.9,212.0 L448.8,210.0 L452.8,208.1 L456.7,206.1 L460.6,204.1 L464.6,202.1 L468.5,200.2 L472.4,198.2 L476.3,196.2 L480.3,194.3 L484.2,192.3 L488.1,190.4 L492.1,188.5 L496.1,186.7 L500.2,184.9 L504.0,182.9 L507.7,180.6 L511.4,178.3 L515.0,176.0 L518.0,173.3 L521.0,170.5 L524.0,167.8 L527.0,165.0 L530.0,162.3 L533.0,159.5" stroke-dashoffset="26.0"/>
<path d="M239.0,172.7 L241.7,174.7 L244.3,176.6 L247.0,178.6 L249.7,180.6 L252.3,182.8 L254.7,185.9 L257.1,189.0 L259.6,192.1 L262.0,195.2 L264.9,198.2 L267.9,201.2 L271.0,203.8 L274.3,206.2 L277.6,208.7 L281.1,210.9 L284.6,213.2 L288.2,215.3 L292.1,217.3 L295.9,219.2 L299.8,221.1 L303.7,223.0 L307.5,224.9 L311.6,226.1 L315.7,227.0 L319.8,228.0 L323.9,228.9 L328.2,229.4 L332.5,229.8 L336.8,230.2 L341.2,230.6 L345.5,231.0 L349.8,231.4 L354.1,231.8 L358.4,232.2 L362.7,232.3 L367.0,232.1 L371.4,232.0 L375.7,231.5 L379.9,230.8 L384.2,230.0 L388.5,229.3 L392.7,228.5 L396.9,227.6 L401.1,226.6 L405.3,225.6 L409.5,224.5 L413.6,223.5 L417.7,222.2 L421.6,220.3 L425.6,218.5 L429.5,216.6 L433.4,214.7 L437.3,212.8 L441.2,210.9 L445.1,209.0 L449.0,207.1 L452.9,205.1 L456.7,203.2 L460.6,201.3 L464.5,199.3 L468.4,197.4 L472.3,195.5 L476.2,193.6 L480.1,191.6 L483.9,189.7 L487.8,187.8 L491.8,186.0 L495.7,184.2 L499.7,182.5 L503.5,180.5 L507.2,178.3 L510.9,176.1 L514.5,173.9 L517.6,171.3 L520.7,168.7 L523.8,166.1 L526.8,163.5 L529.9,160.9 L533.0,158.3" stroke-dashoffset="28.0"/>
<path d="M239.0,172.6 L241.8,174.3 L244.7,176.1 L247.5,177.9 L250.4,179.6 L253.2,181.6 L255.7,184.5 L258.3,187.5 L260.8,190.5 L263.4,193.4 L266.4,196.3 L269.4,199.1 L272.5,201.7 L275.9,203.9 L279.3,206.2 L282.8,208.4 L286.4,210.5 L290.0,212.5 L293.8,214.4 L297.6,216.2 L301.5,218.1 L305.3,219.9 L309.2,221.7 L313.2,222.8 L317.3,223.6 L321.4,224.4 L325.5,225.3 L329.7,225.7 L334.0,226.0 L338.2,226.4 L342.5,226.8 L346.8,227.1 L351.0,227.5 L355.3,227.8 L359.5,228.2 L363.8,228.3 L368.1,228.2 L372.3,228.1 L376.6,227.7 L380.8,227.0 L385.0,226.3 L389.2,225.6 L393.5,224.9 L397.6,223.9 L401.7,223.0 L405.9,222.1 L410.0,221.2 L414.1,220.2 L418.2,218.9 L422.1,217.1 L426.0,215.3 L429.8,213.4 L433.7,211.6 L437.5,209.7 L441.4,207.9 L445.3,206.0 L449.1,204.1 L452.9,202.2 L456.8,200.3 L460.6,198.4 L464.5,196.6 L468.3,194.7 L472.2,192.8 L476.0,190.9 L479.8,189.0 L483.7,187.1 L487.5,185.3 L491.4,183.5 L495.3,181.7 L499.3,180.0 L503.1,178.1 L506.7,176.0 L510.4,173.9 L514.0,171.8 L517.2,169.4 L520.4,166.9 L523.5,164.5 L526.7,162.0 L529.8,159.6 L533.0,157.1" stroke-dashoffset="30.0"/>
<path d="M239.0,172.5 L242.0,174.0 L245.1,175.5 L248.1,177.1 L251.1,178.6 L254.1,180.4 L256.7,183.2 L259.4,186.0 L262.1,188.8 L264.8,191.7 L267.9,194.4 L270.9,197.1 L274.1,199.5 L277.5,201.6 L280.9,203.8 L284.5,205.8 L288.1,207.8 L291.8,209.7 L295.6,211.5 L299.4,213.3 L303.2,215.0 L307.0,216.8 L310.8,218.5 L314.8,219.5 L318.9,220.2 L323.0,220.9 L327.0,221.6 L331.2,222.0 L335.4,222.3 L339.6,222.7 L343.8,223.0 L348.0,223.3 L352.2,223.6 L356.4,223.9 L360.7,224.3 L364.9,224.4 L369.1,224.3 L373.3,224.2 L377.5,223.9 L381.7,223.2 L385.8,222.5 L390.0,221.9 L394.2,221.2 L398.3,220.3 L402.4,219.5 L406.5,218.6 L410.6,217.8 L414.7,216.9 L418.7,215.7 L422.5,213.9 L426.3,212.1 L430.2,210.3 L434.0,208.5 L437.8,206.7 L441.6,204.8 L445.4,203.0 L449.2,201.2 L453.0,199.3 L456.8,197.5 L460.6,195.6 L464.4,193.8 L468.2,191.9 L472.0,190.1 L475.8,188.2 L479.6,186.4 L483.4,184.5 L487.2,182.7 L491.1,180.9 L494.9,179.2 L498.8,177.6 L502.6,175.7 L506.3,173.7 L509.9,171.7 L513.6,169.7 L516.8,167.4 L520.0,165.1 L523.3,162.8 L526.5,160.5 L529.8,158.2 L533.0,156.0" stroke-dashoffset="32.0"/>
<path d="M239.0,172.4 L242.2,173.7 L245.4,175.0 L248.6,176.3 L251.8,177.6 L255.0,179.2 L257.8,181.8 L260.6,184.5 L263.4,187.2 L266.2,189.9 L269.3,192.5 L272.4,195.1 L275.7,197.4 L279.2,199.4 L282.6,201.3 L286.2,203.2 L289.8,205.1 L293.5,206.9 L297.3,208.6 L301.1,210.3 L304.9,212.0 L308.7,213.7 L312.5,215.4 L316.4,216.2 L320.5,216.8 L324.5,217.4 L328.6,218.0 L332.7,218.3 L336.9,218.6 L341.0,218.9 L345.2,219.2 L349.3,219.5 L353.5,219.8 L357.6,220.0 L361.8,220.3 L365.9,220.4 L370.1,220.4 L374.3,220.4 L378.4,220.1 L382.5,219.4 L386.6,218.8 L390.8,218.1 L394.9,217.5 L398.9,216.7 L403.0,216.0 L407.1,215.2 L411.1,214.4 L415.2,213.6 L419.2,212.4 L422.9,210.7 L426.7,208.9 L430.5,207.2 L434.3,205.4 L438.0,203.6 L441.8,201.8 L445.6,200.0 L449.3,198.2 L453.1,196.4 L456.9,194.6 L460.6,192.8 L464.4,191.0 L468.1,189.2 L471.9,187.4 L475.7,185.6 L479.4,183.8 L483.2,181.9 L486.9,180.2 L490.7,178.4 L494.5,176.7 L498.4,175.1 L502.1,173.3 L505.8,171.4 L509.4,169.5 L513.1,167.6 L516.4,165.4 L519.7,163.3 L523.0,161.2 L526.4,159.0 L529.7,156.9 L533.0,154.8" stroke-dashoffset="34.0"/>
<path d="M239.0,172.3 L242.4,173.4 L245.8,174.5 L249.2,175.5 L252.5,176.6 L255.9,178.0 L258.8,180.5 L261.7,183.0 L264.7,185.6 L267.6,188.1 L270.8,190.6 L273.9,193.1 L277.3,195.2 L280.8,197.1 L284.3,198.9 L288.0,200.6 L291.6,202.4 L295.3,204.1 L299.0,205.7 L302.8,207.4 L306.5,209.0 L310.3,210.6 L314.1,212.2 L318.0,212.9 L322.1,213.4 L326.1,213.9 L330.1,214.4 L334.2,214.7 L338.3,214.9 L342.4,215.1 L346.5,215.4 L350.6,215.6 L354.7,215.9 L358.8,216.1 L362.9,216.4 L367.0,216.5 L371.1,216.5 L375.2,216.5 L379.3,216.2 L383.4,215.6 L387.4,215.0 L391.5,214.4 L395.6,213.8 L399.6,213.1 L403.6,212.4 L407.7,211.7 L411.7,211.0 L415.7,210.3 L419.6,209.2 L423.4,207.5 L427.1,205.8 L430.9,204.0 L434.6,202.3 L438.3,200.5 L442.0,198.8 L445.8,197.0 L449.5,195.3 L453.2,193.5 L456.9,191.7 L460.6,190.0 L464.3,188.2 L468.0,186.4 L471.8,184.7 L475.5,182.9 L479.2,181.1 L482.9,179.4 L486.6,177.6 L490.4,175.9 L494.1,174.2 L497.9,172.6 L501.6,170.9 L505.3,169.1 L509.0,167.3 L512.6,165.5 L516.0,163.5 L519.4,161.5 L522.8,159.5 L526.2,157.5 L529.6,155.6 L533.0,153.6" stroke-dashoffset="36.0"/>
<path d="M239.0,172.2 L242.6,173.1 L246.1,173.9 L249.7,174.8 L253.3,175.6 L256.7,176.7 L259.8,179.2 L262.9,181.6 L266.0,184.0 L269.0,186.4 L272.3,188.7 L275.5,191.1 L278.9,193.1 L282.5,194.8 L286.0,196.4 L289.7,198.1 L293.3,199.7 L297.0,201.3 L300.8,202.9 L304.5,204.4 L308.2,205.9 L312.0,207.5 L315.7,209.0 L319.7,209.7 L323.7,210.0 L327.6,210.4 L331.6,210.8 L335.7,211.0 L339.7,211.2 L343.8,211.4 L347.8,211.6 L351.9,211.8 L355.9,212.0 L360.0,212.2 L364.0,212.4 L368.1,212.6 L372.1,212.6 L376.2,212.7 L380.2,212.4 L384.2,211.8 L388.3,211.3 L392.3,210.7 L396.3,210.1 L400.3,209.5 L404.3,208.9 L408.3,208.2 L412.3,207.6 L416.2,206.9 L420.1,206.0 L423.8,204.3 L427.5,202.6 L431.2,200.9 L434.9,199.2 L438.6,197.5 L442.2,195.8 L445.9,194.0 L449.6,192.3 L453.3,190.6 L456.9,188.9 L460.6,187.1 L464.3,185.4 L468.0,183.7 L471.6,182.0 L475.3,180.2 L479.0,178.5 L482.7,176.8 L486.3,175.1 L490.0,173.4 L493.7,171.8 L497.5,170.2 L501.2,168.5 L504.8,166.8 L508.5,165.1 L512.1,163.4 L515.6,161.5 L519.1,159.7 L522.6,157.9 L526.0,156.0 L529.5,154.2 L533.0,152.4" stroke-dashoffset="38.0"/>
<path d="M239.0,172.1 L242.7,172.7 L246.5,173.4 L250.2,174.0 L254.0,174.6 L257.6,175.5 L260.8,177.8 L264.0,180.1 L267.2,182.3 L270.4,184.6 L273.7,186.8 L277.0,189.1 L280.5,190.9 L284.1,192.5 L287.7,194.0 L291.4,195.5 L295.1,197.0 L298.8,198.5 L302.5,200.0 L306.2,201.4 L309.9,202.9 L313.6,204.4 L317.4,205.8 L321.3,206.4 L325.2,206.6 L329.2,206.9 L333.2,207.1 L337.2,207.3 L341.2,207.5 L345.2,207.6 L349.2,207.8 L353.2,208.0 L357.2,208.1 L361.2,208.3 L365.2,208.5 L369.2,208.6 L373.2,208.7 L377.1,208.8 L381.1,208.6 L385.1,208.0 L389.1,207.5 L393.0,207.0 L397.0,206.5 L401.0,205.9 L404.9,205.3 L408.9,204.8 L412.8,204.2 L416.8,203.6 L420.6,202.7 L424.3,201.1 L427.9,199.4 L431.5,197.7 L435.2,196.1 L438.8,194.4 L442.5,192.7 L446.1,191.0 L449.7,189.4 L453.4,187.7 L457.0,186.0 L460.6,184.3 L464.2,182.6 L467.9,180.9 L471.5,179.2 L475.1,177.6 L478.8,175.9 L482.4,174.2 L486.0,172.5 L489.7,170.8 L493.3,169.3 L497.0,167.7 L500.7,166.1 L504.3,164.5 L508.0,162.9 L511.6,161.3 L515.2,159.6 L518.8,157.9 L522.3,156.2 L525.9,154.5 L529.4,152.9 L533.0,151.2" stroke-dashoffset="40.0"/>
<path d="M239.0,172.0 L242.9,172.4 L246.9,172.8 L250.8,173.2 L254.7,173.7 L258.5,174.3 L261.9,176.5 L265.2,178.6 L268.5,180.7 L271.9,182.8 L275.2,184.9 L278.5,187.1 L282.0,188.8 L285.7,190.2 L289.4,191.5 L293.1,192.9 L296.8,194.3 L300.5,195.7 L304.2,197.1 L307.9,198.5 L311.6,199.9 L315.3,201.2 L319.0,202.6 L322.9,203.1 L326.8,203.2 L330.8,203.4 L334.7,203.5 L338.7,203.6 L342.6,203.8 L346.6,203.9 L350.5,204.0 L354.4,204.1 L358.4,204.3 L362.3,204.4 L366.3,204.5 L370.2,204.7 L374.2,204.8 L378.1,204.9 L382.0,204.7 L386.0,204.3 L389.9,203.8 L393.8,203.3 L397.7,202.8 L401.6,202.3 L405.5,201.8 L409.5,201.3 L413.4,200.8 L417.3,200.3 L421.1,199.5 L424.7,197.9 L428.3,196.2 L431.9,194.6 L435.5,193.0 L439.1,191.3 L442.7,189.7 L446.3,188.0 L449.8,186.4 L453.4,184.8 L457.0,183.1 L460.6,181.5 L464.2,179.8 L467.8,178.2 L471.4,176.5 L475.0,174.9 L478.6,173.2 L482.1,171.6 L485.7,170.0 L489.3,168.3 L492.9,166.8 L496.6,165.2 L500.2,163.7 L503.9,162.2 L507.5,160.7 L511.2,159.1 L514.8,157.6 L518.4,156.1 L522.1,154.6 L525.7,153.0 L529.4,151.5 L533.0,150.0" stroke-dashoffset="42.0"/>
</g>
<g stroke="#111516" stroke-width="1.6" fill="none">
<path d="M239.0,173.9 L239.4,178.7 L239.8,183.6 L240.2,188.4 L240.5,193.3 L240.9,198.1 L241.7,203.0 L242.5,207.9 L243.2,212.9 L244.1,217.7 L246.3,222.3 L248.5,226.8 L250.8,231.3 L253.3,235.5 L255.9,239.8 L259.1,243.7 L262.4,247.5 L265.9,251.1 L270.0,254.0 L274.1,256.9 L278.3,259.8 L282.5,262.7 L286.7,265.5 L291.1,267.9 L295.5,270.3 L299.9,272.7 L304.3,275.2 L309.2,276.2 L314.2,277.1 L319.2,278.0 L324.2,278.9 L329.1,279.7 L334.1,280.6 L339.1,281.5 L344.1,282.4 L349.1,282.5 L354.1,281.8 L359.1,281.2 L364.1,280.3 L369.0,279.1 L373.9,277.9 L378.8,276.6 L383.7,275.4 L388.4,273.5 L393.1,271.6 L397.7,269.7 L402.4,267.7 L406.9,265.6 L411.5,263.4 L416.0,261.2 L420.6,258.9 L425.1,256.6 L429.5,254.2 L434.0,251.9 L438.5,249.5 L442.9,247.1 L447.4,244.7 L451.8,242.2 L456.2,239.8 L460.6,237.3 L465.1,234.9 L469.5,232.4 L473.9,230.0 L478.4,227.5 L482.8,225.1 L487.2,222.7 L491.7,220.3 L496.3,218.1 L500.8,216.0 L505.4,213.8 L509.5,211.0 L513.3,207.6 L517.1,204.3 L520.6,200.8 L522.7,196.2 L524.8,191.7 L526.8,187.1 L528.9,182.6 L530.9,178.0 L533.0,173.5"/>
<path d="M239.0,173.7 L239.6,178.3 L240.3,182.8 L240.9,187.3 L241.6,191.8 L242.2,196.3 L243.2,201.1 L244.1,205.8 L245.1,210.5 L246.2,215.1 L248.5,219.5 L250.7,223.8 L253.1,228.1 L255.8,232.2 L258.4,236.2 L261.6,239.9 L264.9,243.6 L268.5,246.9 L272.6,249.8 L276.6,252.6 L280.8,255.3 L284.9,258.1 L289.1,260.8 L293.4,263.1 L297.8,265.3 L302.2,267.6 L306.6,269.8 L311.4,270.8 L316.3,271.6 L321.2,272.5 L326.1,273.3 L331.0,274.1 L335.9,274.9 L340.8,275.8 L345.7,276.6 L350.6,276.7 L355.6,276.1 L360.5,275.5 L365.4,274.7 L370.2,273.5 L375.1,272.3 L379.9,271.2 L384.7,270.0 L389.4,268.2 L394.0,266.4 L398.6,264.6 L403.2,262.7 L407.7,260.7 L412.2,258.6 L416.7,256.5 L421.2,254.3 L425.6,252.0 L430.0,249.7 L434.4,247.3 L438.8,245.0 L443.2,242.7 L447.6,240.4 L451.9,238.0 L456.3,235.6 L460.6,233.2 L465.0,230.8 L469.4,228.4 L473.7,226.0 L478.1,223.6 L482.5,221.2 L486.8,218.9 L491.2,216.5 L495.7,214.4 L500.3,212.3 L504.8,210.2 L508.8,207.5 L512.6,204.3 L516.4,201.0 L519.9,197.7 L522.1,193.4 L524.3,189.0 L526.5,184.7 L528.6,180.4 L530.8,176.1 L533.0,171.8"/>
<path d="M239.0,173.6 L239.9,177.8 L240.8,182.0 L241.7,186.2 L242.6,190.3 L243.5,194.6 L244.7,199.1 L245.8,203.6 L247.0,208.1 L248.3,212.5 L250.6,216.7 L252.9,220.9 L255.4,224.9 L258.2,228.8 L260.9,232.6 L264.1,236.2 L267.5,239.6 L271.1,242.8 L275.1,245.5 L279.2,248.2 L283.2,250.9 L287.3,253.5 L291.5,256.1 L295.8,258.2 L300.1,260.3 L304.5,262.4 L308.8,264.5 L313.6,265.4 L318.4,266.2 L323.3,266.9 L328.1,267.7 L332.9,268.5 L337.7,269.3 L342.6,270.0 L347.4,270.8 L352.2,270.9 L357.1,270.3 L361.9,269.8 L366.7,269.0 L371.5,267.9 L376.3,266.8 L381.0,265.7 L385.8,264.6 L390.4,262.9 L394.9,261.2 L399.5,259.5 L404.0,257.8 L408.5,255.8 L412.9,253.9 L417.3,251.7 L421.7,249.6 L426.1,247.3 L430.4,245.1 L434.8,242.8 L439.1,240.6 L443.4,238.3 L447.7,236.0 L452.0,233.7 L456.3,231.3 L460.6,229.0 L464.9,226.7 L469.2,224.3 L473.5,222.0 L477.9,219.7 L482.2,217.4 L486.5,215.1 L490.8,212.8 L495.2,210.7 L499.7,208.7 L504.1,206.6 L508.2,204.0 L511.9,200.9 L515.6,197.8 L519.2,194.6 L521.5,190.5 L523.8,186.4 L526.1,182.3 L528.4,178.2 L530.7,174.1 L533.0,170.0"/>
<path d="M239.0,173.5 L240.2,177.3 L241.4,181.2 L242.5,185.0 L243.7,188.9 L244.8,192.8 L246.2,197.1 L247.5,201.4 L248.9,205.7 L250.3,209.9 L252.8,213.9 L255.2,217.9 L257.8,221.8 L260.6,225.4 L263.4,229.0 L266.7,232.4 L270.1,235.6 L273.6,238.7 L277.7,241.3 L281.7,243.9 L285.7,246.4 L289.8,248.9 L293.9,251.4 L298.2,253.4 L302.5,255.3 L306.8,257.2 L311.1,259.2 L315.8,260.0 L320.5,260.7 L325.3,261.4 L330.0,262.1 L334.8,262.9 L339.5,263.6 L344.3,264.3 L349.0,265.0 L353.8,265.1 L358.6,264.6 L363.3,264.1 L368.1,263.4 L372.8,262.4 L377.5,261.3 L382.1,260.2 L386.8,259.2 L391.3,257.6 L395.8,256.0 L400.4,254.4 L404.8,252.8 L409.3,251.0 L413.6,249.1 L418.0,247.0 L422.3,244.9 L426.6,242.7 L430.9,240.5 L435.1,238.3 L439.4,236.1 L443.7,233.9 L447.9,231.7 L452.2,229.4 L456.4,227.1 L460.6,224.8 L464.9,222.6 L469.1,220.3 L473.4,218.0 L477.6,215.8 L481.8,213.5 L486.1,211.3 L490.4,209.0 L494.7,207.0 L499.1,205.0 L503.5,203.0 L507.5,200.4 L511.2,197.5 L514.9,194.5 L518.5,191.5 L520.9,187.6 L523.3,183.7 L525.8,179.9 L528.2,176.0 L530.6,172.1 L533.0,168.2"/>
</g>
<path d="M442.8,181.4 C442.8,181.4 532.5,148.6 532.5,148.6 C532.5,148.6 533.6,167.3 533.0,174.2 C532.4,181.1 531.0,185.0 529.0,190.0 C527.0,195.0 524.5,199.7 521.0,204.0 C517.5,208.3 513.0,212.7 508.0,216.0 C503.0,219.3 498.3,220.2 491.0,224.0 C483.7,227.8 471.8,234.7 464.0,239.0 C456.2,243.3 449.3,247.0 444.4,250.0 C439.5,253.0 438.9,254.8 434.8,257.0 C430.7,259.2 425.1,261.5 420.0,263.0 C414.9,264.5 404.0,266.0 404.0,266.0 C404.0,266.0 410.4,256.3 414.2,252.0 C418.0,247.7 423.7,243.9 427.0,240.0 C430.3,236.1 432.1,232.5 434.2,228.5 C436.3,224.5 438.3,219.9 439.5,216.0 C440.7,212.1 440.8,209.0 441.3,205.0 C441.8,201.0 442.2,195.9 442.5,192.0 C442.8,188.1 442.8,181.4 442.8,181.4Z" fill="url(#patB)"/>
<path d="M441.5,190.0 C449.6,186.3 474.8,173.8 490.0,168.0 C505.2,162.2 525.8,157.6 533.0,155.5 M441.5,199.5 C449.6,195.8 474.8,182.9 490.0,177.0 C505.2,171.1 525.8,166.2 533.0,164.0 M441.5,209.0 C449.6,205.2 474.8,192.1 490.0,186.0 C505.2,179.9 525.8,174.8 533.0,172.5" stroke="#1a1f20" stroke-width="1.3" fill="none"/>
</g>
<path d="M226.9,129.9 C226.9,129.9 245.6,126.6 245.6,126.6 C245.6,126.6 525.4,109.6 525.4,109.6 C525.4,109.6 549.0,110.4 549.0,110.4 C549.0,110.4 532.7,114.4 532.7,114.4 C532.7,114.4 533.0,122.1 532.0,125.9 C531.0,129.7 529.2,133.8 527.0,137.3 C524.8,140.8 522.1,144.0 518.9,147.0 C515.6,150.0 511.6,152.8 507.5,155.2 C503.4,157.6 499.3,159.5 494.4,161.7 C489.5,163.9 486.6,165.0 478.0,168.2 C469.4,171.4 449.9,177.9 442.6,181.0 C435.3,184.1 438.2,185.1 434.4,186.8 C430.6,188.6 425.3,188.8 420.0,191.5 C414.7,194.2 409.8,199.7 402.7,203.3 C395.6,206.9 386.5,210.9 377.3,213.0 C368.1,215.1 358.6,216.2 347.4,216.0 C336.2,215.8 319.4,214.0 310.0,211.6 C300.6,209.2 298.2,205.9 291.0,201.5 C283.8,197.1 273.2,191.6 266.7,185.2 C260.2,178.8 255.8,168.9 252.0,163.3 C248.2,157.8 246.2,156.0 244.0,151.9 C241.8,147.8 240.2,142.4 239.1,138.9 C238.0,135.4 237.5,130.7 237.5,130.7 C237.5,130.7 226.9,129.9 226.9,129.9Z" fill="url(#shellg)"/>
<path d="M240.0,105.0 C240.0,105.0 241.5,111.1 242.3,114.4 C243.1,117.7 243.7,121.2 244.8,125.0 C245.9,128.8 247.1,133.3 248.9,137.2 C250.7,141.1 252.7,144.8 255.4,148.6 C258.1,152.4 261.8,156.4 265.1,160.0 C268.4,163.6 270.9,166.8 275.0,170.0 C279.1,173.2 284.2,176.4 290.0,179.0 C295.8,181.6 301.7,183.8 310.0,185.4 C318.3,187.0 330.0,187.7 340.0,188.4 C350.0,189.2 359.9,190.9 369.8,189.9 C379.8,188.9 391.3,185.9 399.7,182.4 C408.1,178.9 420.0,169.0 420.0,169.0 C420.0,169.0 429.6,169.1 432.8,167.2 C436.0,165.3 437.5,161.0 439.3,157.5 C441.1,154.0 442.4,149.7 443.4,146.0 C444.3,142.3 445.0,135.5 445.0,135.5 C445.0,135.5 480.0,128.1 480.0,128.1 C480.0,128.1 525.4,112.8 525.4,112.8 C525.4,112.8 530.3,90.2 530.3,90.2 C530.3,90.2 443.4,107.9 443.4,107.9 C443.4,107.9 397.2,108.8 370.0,108.0 C342.8,107.2 301.7,103.5 280.0,103.0 C258.3,102.5 240.0,105.0 240.0,105.0Z" fill="#90c69c"/>
<path d="M366.0,99.0 C366.0,99.0 443.0,107.9 443.0,107.9 C443.0,107.9 440.2,117.8 438.2,123.3 C436.2,128.8 434.0,135.0 431.1,140.6 C428.2,146.2 424.4,152.8 421.0,157.0 C417.6,161.2 411.0,165.5 411.0,165.5 C411.0,165.5 405.2,160.7 401.0,155.7 C396.8,150.7 390.2,141.8 386.0,135.5 C381.8,129.2 379.3,124.1 376.0,118.0 C372.7,111.9 366.0,99.0 366.0,99.0Z" fill="#acd6b5"/>
<path d="M240.0,105.0 C240.0,105.0 258.7,102.8 280.0,103.0 C301.3,103.2 368.0,106.0 368.0,106.0 C368.0,106.0 372.2,112.8 374.0,116.0 C375.8,119.2 379.0,125.0 379.0,125.0 C379.0,125.0 322.4,123.5 300.0,123.5 C277.6,123.5 244.8,125.0 244.8,125.0 C244.8,125.0 240.0,105.0 240.0,105.0Z" fill="#a6d2b0"/>
<path d="M204.0,104.3 C204.0,104.3 247.3,98.2 270.0,95.2 C292.7,92.2 320.0,87.8 340.0,86.2 C360.0,84.6 352.1,84.9 390.0,85.4 C427.9,85.9 567.5,89.4 567.5,89.4 C567.5,89.4 528.0,97.5 528.0,97.5 C528.0,97.5 530.3,90.6 530.3,90.6 C530.3,90.6 443.4,107.9 443.4,107.9 C443.4,107.9 397.2,108.8 370.0,108.0 C342.8,107.2 301.7,103.5 280.0,103.0 C258.3,102.5 240.0,105.0 240.0,105.0 C240.0,105.0 204.0,104.3 204.0,104.3Z" fill="#c4e3cb"/>
<path d="M445.0,135.5 C445.0,135.5 466.6,131.9 480.0,128.1 C493.4,124.3 525.4,112.8 525.4,112.8 C525.4,112.8 532.7,114.4 532.7,114.4 C532.7,114.4 533.0,122.1 532.0,125.9 C531.0,129.7 529.2,133.8 527.0,137.3 C524.8,140.8 522.1,144.0 518.9,147.0 C515.6,150.0 511.6,152.8 507.5,155.2 C503.4,157.6 499.3,159.5 494.4,161.7 C489.5,163.9 486.6,165.0 478.0,168.2 C469.4,171.4 449.9,177.9 442.6,181.0 C435.3,184.1 438.2,185.1 434.4,186.8 C430.6,188.6 424.9,189.5 420.0,191.5 C415.1,193.5 405.0,199.0 405.0,199.0 C405.0,199.0 411.6,190.5 414.9,186.8 C418.2,183.1 421.7,180.3 424.7,177.0 C427.7,173.7 430.4,170.4 432.8,167.2 C435.2,163.9 437.5,161.0 439.3,157.5 C441.1,154.0 442.4,149.7 443.4,146.0 C444.3,142.3 445.0,135.5 445.0,135.5Z" fill="url(#wallg)"/>
<path d="M445,135.5 C470,129 500,120 532,113" stroke="#dfe3df" stroke-width="1.5" fill="none"/>
<path d="M238,134 C245,165 270,195 320,209 C360,218 400,206 435,185" stroke="#dde1dd" stroke-width="1.5" fill="none"/>
<path d="M310,34 C322,45 333,60 341,75 C352,96 362,118 366.5,135 C369,148 370,158 370,165" stroke="url(#tubeg)" stroke-width="4" fill="none"/>
<rect x="363.8" y="160" width="12.7" height="9" fill="#4c6468"/>
<rect x="354.8" y="169" width="29.9" height="9.7" rx="1.5" fill="#4a5a60"/>
<rect x="354.8" y="169" width="29.9" height="2" fill="#6a7c7c"/>
<line x1="187.5" y1="291" x2="267" y2="291" stroke="#e4262b" stroke-width="2"/>
<line x1="467" y1="197.8" x2="590.75" y2="197.8" stroke="#e4262b" stroke-width="2"/>
<line x1="81.8" y1="247.4" x2="81.8" y2="265.7" stroke="#e9a3a3" stroke-width="1.2"/>
<g font-family="Liberation Sans, sans-serif">
<text x="21.8" y="266.4" font-size="17.7" font-weight="bold" fill="#1d5c86" textLength="56.7" lengthAdjust="spacingAndGlyphs">CORSO</text>
<text x="86.4" y="265.5" font-size="17.2" fill="#3d7ea3" textLength="114.2" lengthAdjust="spacingAndGlyphs">COMPOSITES</text>
<text x="21.4" y="295.9" font-size="20" fill="#1d5c86" textLength="158" lengthAdjust="spacingAndGlyphs">Film de peinture</text>
<text x="602.6" y="203.2" font-size="20.3" fill="#1d5c86" textLength="114.4" lengthAdjust="spacingAndGlyphs">Composites</text>
<text x="602.6" y="223.8" font-size="20.3" fill="#1d5c86" textLength="88.2" lengthAdjust="spacingAndGlyphs">stratifiés</text>
</g>
</svg>
</body></html>
